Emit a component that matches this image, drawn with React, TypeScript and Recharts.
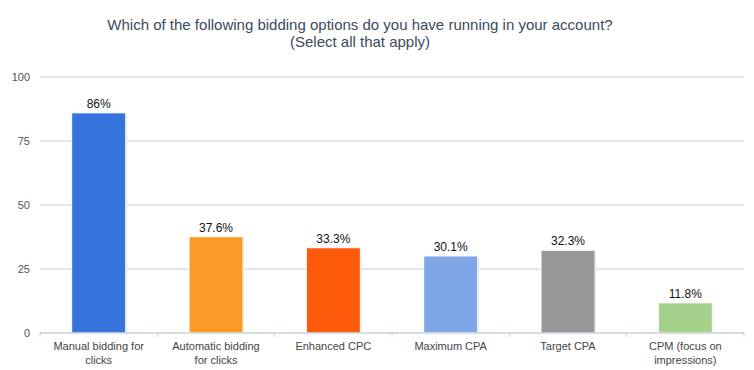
import React from 'react';
import { BarChart, Bar, XAxis, YAxis, CartesianGrid, LabelList, Cell } from 'recharts';

// line breaks follow the reference wrapping
const categories = [
  'Manual bidding for\nclicks',
  'Automatic bidding\nfor clicks',
  'Enhanced CPC',
  'Maximum CPA',
  'Target CPA',
  'CPM (focus on\nimpressions)',
];
const percentages = [86, 37.6, 33.3, 30.1, 32.3, 11.8];
const barColors = ['#3673db', '#fb9a26', '#fe5a0b', '#7fa7e8', '#979797', '#a6d18b'];
const yTicks = [0, 25, 50, 75, 100];

const data = categories.map((name, i) => ({ name, value: percentages[i] }));

const FONT = "'Liberation Sans', Arial, sans-serif";
const WIDTH = 754;
const HEIGHT = 370;
const MARGIN = { top: 77, right: 10, bottom: 0, left: 0 };
const Y_AXIS_W = 40;
const band = (WIDTH - MARGIN.right - Y_AXIS_W) / categories.length;

const CategoryTick = (props: any) => {
  const { x, y, payload, index } = props;
  const lines = String(payload.value).split('\n');
  return (
    <g>
      <line x1={x - band / 2} x2={x - band / 2} y1={y - 8} y2={y - 4} stroke="#c5d3e3" />
      {index === categories.length - 1 && (
        <line x1={x + band / 2} x2={x + band / 2} y1={y - 8} y2={y - 4} stroke="#c5d3e3" />
      )}
      <text x={x} y={y + 9} textAnchor="middle" fontSize={11} fill="#444" fontFamily={FONT}>
        {lines.map((l, i) => (
          <tspan key={i} x={x} dy={i === 0 ? 0 : 14}>
            {l}
          </tspan>
        ))}
      </text>
    </g>
  );
};

// bar with white edge and a faint shadow, like the old google charts look
const ShadowBar = (props: any) => {
  const { x, y, width, height, fill } = props;
  return (
    <g>
      <rect x={x + 1} y={y + 1} width={width} height={height} fill="#d6d6d6" />
      <rect x={x} y={y} width={width} height={height} fill={fill} stroke="#fff" strokeWidth={1} />
    </g>
  );
};

const App: React.FC = () => {
  return (
    <div style={{ position: 'absolute', left: 0, top: 0, width: WIDTH, height: HEIGHT, background: '#fff' }}>
      <div
        style={{
          position: 'absolute',
          left: 0,
          top: 16,
          width: 720,
          textAlign: 'center',
          fontFamily: FONT,
          fontSize: 15,
          lineHeight: '17px',
          color: '#3c4a5c',
        }}
      >
        Which of the following bidding options do you have running in your account?
        <br />
        (Select all that apply)
      </div>
      <BarChart
        width={WIDTH}
        height={HEIGHT}
        data={data}
        margin={MARGIN}
        barCategoryGap="27%"
        style={{ fontFamily: FONT }}
      >
        <CartesianGrid vertical={false} stroke="#cccccc" />
        <XAxis
          dataKey="name"
          interval={0}
          height={37}
          tickLine={false}
          axisLine={{ stroke: '#c5d3e3' }}
          tick={<CategoryTick />}
        />
        <YAxis
          width={Y_AXIS_W}
          domain={[0, 100]}
          ticks={yTicks}
          tickLine={false}
          axisLine={false}
          tick={{ fontSize: 11, fill: '#555' }}
          tickMargin={4}
        />
        <Bar dataKey="value" isAnimationActive={false} shape={<ShadowBar />}>
          {data.map((d, i) => (
            <Cell key={`cell-${i}`} fill={barColors[i]} />
          ))}
          <LabelList
            dataKey="value"
            position="top"
            offset={5}
            formatter={(v: any) => `${v}%`}
            style={{ fontSize: 12, fill: '#111' }}
          />
        </Bar>
      </BarChart>
    </div>
  );
};

export default App;
